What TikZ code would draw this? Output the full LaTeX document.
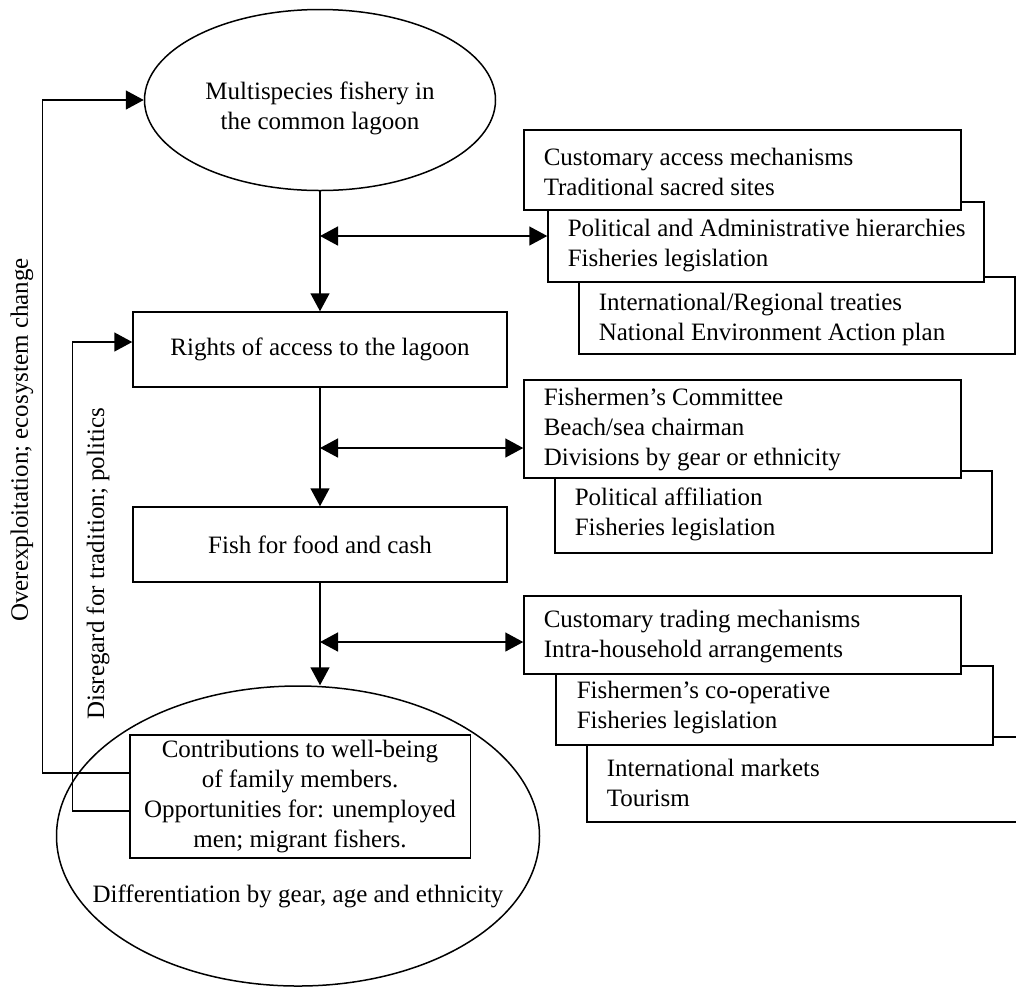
\documentclass[tikz,border=0pt]{standalone}
\usepackage{fontspec}
\setmainfont{Liberation Serif}
\usetikzlibrary{shapes.geometric,arrows.meta,calc}

\begin{document}
\begin{tikzpicture}[x=0.5pt,y=-0.5pt,line width=0.75pt,
  every node/.style={font=\fontsize{12.5}{15}\selectfont},
  box/.style={draw,rectangle,fill=white,inner sep=0pt},
  oval/.style={draw,ellipse,inner sep=0pt},
  txt/.style={align=left,anchor=west,inner sep=0pt},
  flow/.style={-{Triangle[length=9pt,width=9.5pt]}},
  both/.style={{Triangle[length=9pt,width=9.5pt]}-{Triangle[length=9pt,width=9.5pt]}}]

\useasboundingbox (0,0) rectangle (1016,987);
\begin{scope}
\clip (0,0) rectangle (1016,987);

% main chain
\node[oval,minimum width=175.5pt,minimum height=90.5pt] (top) at (320,100) {};
\node (toptext) at (320,108) [align=center,inner sep=0pt] {Multispecies fishery in\\the common lagoon};
\node[box,minimum width=187pt,minimum height=37.5pt] (rights) at (320,349.5) {Rights of access to the lagoon};
\node[box,minimum width=187pt,minimum height=37.5pt] (fish) at (320,544.5) {Fish for food and cash};
\node[oval,minimum width=241.5pt,minimum height=150pt] (bot) at (298,836) {};
\node[box,minimum width=170.25pt,minimum height=61.5pt,align=center] (inner) at (300,796.5)
  {Contributions to well-being\\of family members.\\Opportunities for: unemployed\\men; migrant fishers.};
\node (diff) at (298,896) [inner sep=0pt] {Differentiation by gear, age and ethnicity};

% institutions for the lagoon
\node[box,minimum width=218pt,minimum height=38.5pt] (b3) at (797,315.5) {};
\node[box,minimum width=218pt,minimum height=40pt] (b2) at (766,242) {};
\node[box,minimum width=218.5pt,minimum height=40pt] (b1) at (742.5,170) {};
\node[txt] (t1) at (543,172) {Customary access mechanisms\\Traditional sacred sites};
\node[txt] (t2) at (567,245.5) {Political and Administrative hierarchies\\Fisheries legislation};
\node[txt] (t3) at (598,319) {International/Regional treaties\\National Environment Action plan};

% institutions for access rights
\node[box,minimum width=218.5pt,minimum height=41pt] (b5) at (773.5,512) {};
\node[box,minimum width=218.5pt,minimum height=49pt] (b4) at (742.5,429) {};
\node[txt] (t4) at (543,430) {Fishermen’s Committee\\Beach/sea chairman\\Divisions by gear or ethnicity};
\node[txt] (t5) at (574,514) {Political affiliation\\Fisheries legislation};

% institutions for the catch
\node[box,minimum width=221.5pt,minimum height=42.5pt] (b8) at (808.5,779.5) {};
\node[box,minimum width=218.5pt,minimum height=39.5pt] (b7) at (774.5,705.5) {};
\node[box,minimum width=218.5pt,minimum height=39pt] (b6) at (742.5,635) {};
\node[txt] (t6) at (543,636.5) {Customary trading mechanisms\\Intra-household arrangements};
\node[txt] (t7) at (576,708) {Fishermen’s co-operative\\Fisheries legislation};
\node[txt] (t8) at (606,783) {International markets\\Tourism};

% vertical flow
\draw[flow] (top.south) -- (rights.north);
\draw[flow] (rights.south) -- (fish.north);
\draw[flow] (fish.south) -- (fish.south |- bot.north);

% two-way links to the institutions
\coordinate (j1) at (320,236);
\coordinate (j2) at (320,448);
\coordinate (j3) at (320,642);
\draw[both] (j1) -- (j1 -| b2.west);
\draw[both] (j2) -- (j2 -| b4.west);
\draw[both] (j3) -- (j3 -| b6.west);

% feedback loops
\draw[flow] ($(inner.west)+(0,-23.5)$) -- ++(-86.5,0) |- (top.west);
\draw[flow] ($(inner.west)+(0,14.5)$) -- ++(-56.5,0) |- ($(rights.west)+(0,-7.5)$);
\node[rotate=90,inner sep=0pt] (lab1) at (22,440) {Overexploitation; ecosystem change};
\node[rotate=90,inner sep=0pt] (lab2) at (98,564) {Disregard for tradition; politics};
\end{scope}
\end{tikzpicture}
\end{document}
